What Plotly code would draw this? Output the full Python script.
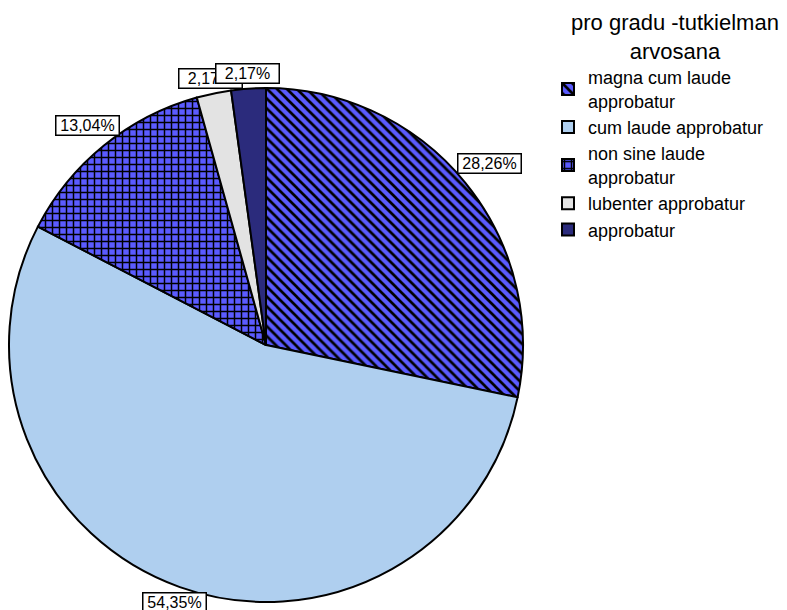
import math
import plotly.graph_objects as go

labels = ["magna cum laude<br>approbatur", "cum laude approbatur", "non sine laude<br>approbatur",
          "lubenter approbatur", "approbatur"]
values = [28.26, 54.35, 13.04, 2.17, 2.17]
value_text = ["28,26%", "54,35%", "13,04%", "2,17%", "2,17%"]
colors = ["#5B5BFF", "#AFCFEF", "#5B5BFF", "#E3E3E3", "#2B2B7C"]
shapes = ["\\", "", "+", "", ""]
legend_title = "pro gradu -tutkielman<br>arvosana"

W, H = 787, 610
CX, CY, R = 266, 345, 257
FONT = "Arial, Liberation Sans, sans-serif"

fig = go.Figure()
fig.add_trace(go.Pie(
    labels=labels, values=values, sort=False, direction="clockwise", rotation=0,
    textinfo="none", hoverinfo="label+percent",
    marker=dict(colors=colors, line=dict(color="black", width=2),
                pattern=dict(shape=shapes, fgcolor="black", bgcolor=colors,
                             size=7, solidity=0.38, fillmode="replace")),
    domain=dict(x=[(CX - R) / W, (CX + R) / W], y=[(H - CY - R) / H, (H - CY + R) / H]),
))

# label boxes placed outside each slice at its mid angle
BW, BH, GAP = 66, 21, 5
total = sum(values)
cum = 0
annotations = []
for v, t in zip(values, value_text):
    mid = (cum + v / 2) / total * 2 * math.pi
    cum += v
    s, c = math.sin(mid), math.cos(mid)
    ext = max(abs(s) * BW / 2, abs(c) * BH / 2)
    r = R + ext + GAP
    px = CX + r * s
    py = CY - r * c
    annotations.append(dict(
        x=px / W, y=1 - py / H, xref="paper", yref="paper", text=t, showarrow=False,
        xanchor="center", yanchor="middle", width=BW - 4, height=BH - 3,
        bgcolor="white", bordercolor="black", borderwidth=1.5, borderpad=0,
        font=dict(family=FONT, size=16, color="black")))

annotations.append(dict(
    x=675 / W, y=1 - 37 / H, xref="paper", yref="paper", text=legend_title,
    showarrow=False, xanchor="center", yanchor="middle", align="center",
    font=dict(family=FONT, size=22, color="black")))

fig.update_layout(
    width=W, height=H, margin=dict(l=0, r=0, t=0, b=0),
    paper_bgcolor="white", plot_bgcolor="white",
    font=dict(family=FONT, color="black"),
    annotations=annotations,
    showlegend=True,
    legend=dict(
        x=548 / W, y=1 - 59 / H, xanchor="left", yanchor="top",
        font=dict(size=18, family=FONT),
        traceorder="normal", itemwidth=30, bgcolor="rgba(0,0,0,0)",
    ),
)

fig.write_html("out.html", config={"displayModeBar": False},
               post_script="document.body.style.margin='0';")
